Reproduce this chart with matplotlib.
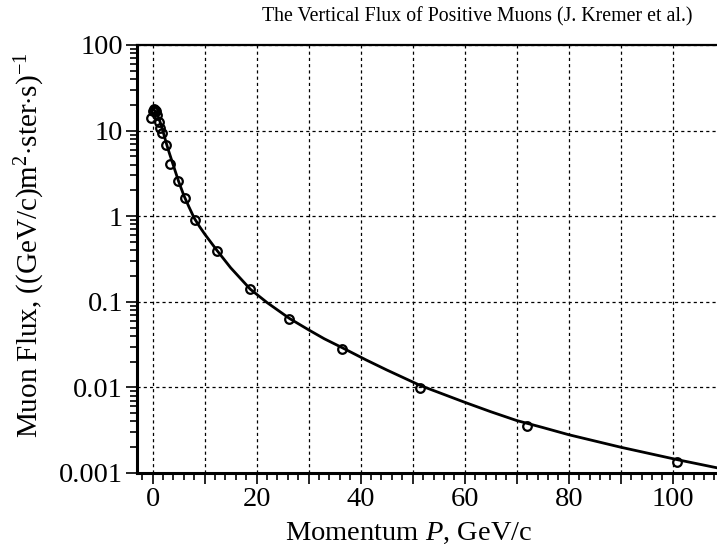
import matplotlib
matplotlib.use('Agg')
import matplotlib.pyplot as plt
from matplotlib.ticker import MultipleLocator, FuncFormatter, LogLocator, NullFormatter
import numpy as np

plt.rcParams['font.family'] = ['Liberation Serif', 'DejaVu Serif']
plt.rcParams['mathtext.fontset'] = 'custom'
plt.rcParams['mathtext.rm'] = 'Liberation Serif'
plt.rcParams['mathtext.it'] = 'Liberation Serif:italic'

# measured points (momentum GeV/c, flux)
p_data = [0.1, 0.3, 0.5, 0.7, -0.3, 0.9, 1.3, 1.45, 1.8, 2.5, 3.4, 4.8, 6.2,
          8.2, 12.35, 18.8, 26.3, 36.5, 51.5, 71.9, 100.9]
flux_data = [17.0, 17.8, 17.5, 16.8, 14.0, 15.2, 12.7, 10.6, 9.3, 6.7, 4.1, 2.56, 1.62,
             0.90, 0.395, 0.14, 0.063, 0.0281, 0.0099, 0.00354, 0.00136]

# fitted curve
p_fit = [0.3, 1.0, 1.5, 2.0, 2.5, 3.0, 4.0, 5.0, 6.0, 7.0, 8.0, 9.0, 10.0, 12.35, 15.0,
         18.8, 22.0, 26.3, 30.0, 33.0, 36.5, 41.0, 45.0, 51.5, 60.0, 65.0, 70.0, 75.0,
         80.0, 90.0, 100.9, 108.5]
flux_fit = [17.5, 15.0, 12.3, 9.8, 7.6, 6.0, 3.9, 2.55, 1.75, 1.28, 0.95, 0.76, 0.62,
            0.40, 0.25, 0.14, 0.098, 0.064, 0.047, 0.037, 0.029, 0.0210, 0.0160, 0.0105,
            0.0067, 0.0052, 0.0041, 0.0034, 0.0028, 0.0020, 0.00143, 0.00115]

fig = plt.figure(figsize=(7.17, 5.52), dpi=100)
ax = fig.add_axes([137/717, 1-473/552, 1-137/717, (473-45)/552])

ax.plot(p_fit, flux_fit, color='black', lw=2.0, zorder=3, solid_joinstyle='round')
ax.plot(p_data, flux_data, 'o', ms=6.2, mfc='none', mec='black', mew=1.6, zorder=4)

ax.set_yscale('log')
ax.set_xlim(-3.0, 108.5)
ax.set_ylim(0.001, 100)

ax.xaxis.set_major_locator(MultipleLocator(10))
ax.xaxis.set_minor_locator(MultipleLocator(2))
ax.xaxis.set_major_formatter(FuncFormatter(lambda v, pos: '%d' % v if int(round(v)) % 20 == 0 else ''))
ax.yaxis.set_major_locator(LogLocator(base=10, numticks=10))
ax.yaxis.set_minor_locator(LogLocator(base=10, subs=np.arange(2, 10), numticks=20))
ax.yaxis.set_minor_formatter(NullFormatter())
ylabels = {0.001: '0.001', 0.01: '0.01', 0.1: '0.1', 1: '1', 10: '10', 100: '100'}
ax.yaxis.set_major_formatter(FuncFormatter(lambda v, pos: ylabels.get(round(v, 3), '')))

ax.tick_params(which='major', direction='out', length=8, width=1.2, labelsize=20.5, pad=2)
ax.tick_params(which='minor', direction='out', length=5, width=1.2)

ax.grid(True, which='major', color='black', linestyle=(0, (2.5, 2.5)), lw=0.9)

for s in ['left', 'bottom']:
    ax.spines[s].set_linewidth(2.2)
ax.spines['top'].set_linewidth(1.6)
ax.spines['right'].set_visible(False)

fig.text(409/717, 1-540/552, r'Momentum $P$, GeV/c', ha='center', va='baseline', fontsize=20.5)
fig.text(30/717, 1-245/552, r'Muon Flux, ((GeV/c)m$^2$$\cdot$ster$\cdot$s)$^{-1}$',
         rotation=90, ha='center', va='center', fontsize=21)
fig.text(477/717, 1-17/552, 'The Vertical Flux of Positive Muons (J. Kremer et al.)',
         ha='center', va='center', fontsize=14.3)

fig.savefig('out.png', dpi=100)
